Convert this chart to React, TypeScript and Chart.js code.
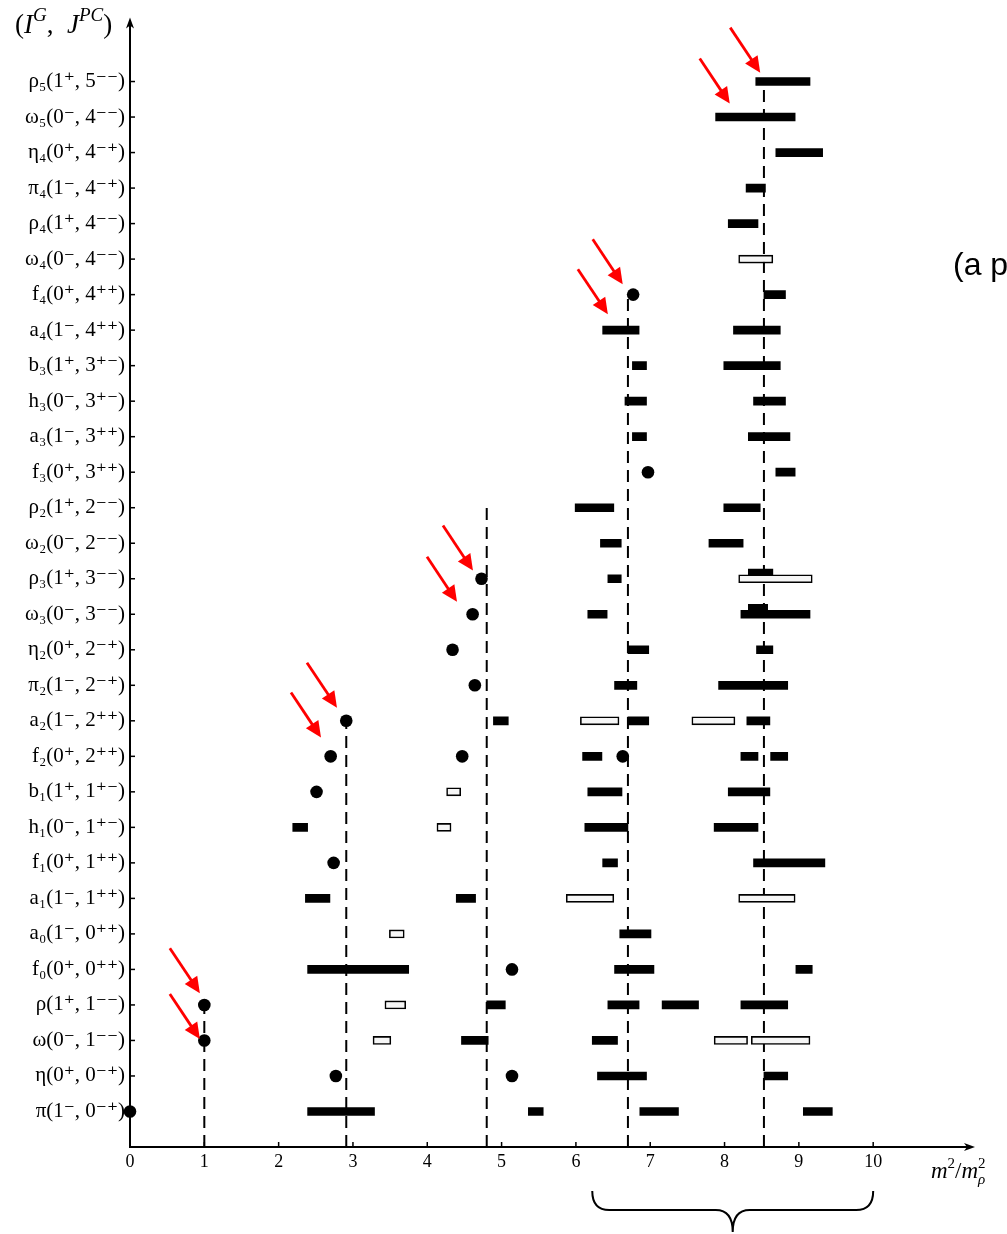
import React, { useEffect, useRef } from 'react';
import { Chart, registerables } from 'chart.js';

Chart.register(...registerables);

// Row labels, bottom (value 1) to top (value 30)
const rowLabels: string[] = [
  'π(1⁻, 0⁻⁺)', 'η(0⁺, 0⁻⁺)', 'ω(0⁻, 1⁻⁻)', 'ρ(1⁺, 1⁻⁻)', 'f₀(0⁺, 0⁺⁺)',
  'a₀(1⁻, 0⁺⁺)', 'a₁(1⁻, 1⁺⁺)', 'f₁(0⁺, 1⁺⁺)', 'h₁(0⁻, 1⁺⁻)', 'b₁(1⁺, 1⁺⁻)',
  'f₂(0⁺, 2⁺⁺)', 'a₂(1⁻, 2⁺⁺)', 'π₂(1⁻, 2⁻⁺)', 'η₂(0⁺, 2⁻⁺)', 'ω₃(0⁻, 3⁻⁻)',
  'ρ₃(1⁺, 3⁻⁻)', 'ω₂(0⁻, 2⁻⁻)', 'ρ₂(1⁺, 2⁻⁻)', 'f₃(0⁺, 3⁺⁺)', 'a₃(1⁻, 3⁺⁺)',
  'h₃(0⁻, 3⁺⁻)', 'b₃(1⁺, 3⁺⁻)', 'a₄(1⁻, 4⁺⁺)', 'f₄(0⁺, 4⁺⁺)', 'ω₄(0⁻, 4⁻⁻)',
  'ρ₄(1⁺, 4⁻⁻)', 'π₄(1⁻, 4⁻⁺)', 'η₄(0⁺, 4⁻⁺)', 'ω₅(0⁻, 4⁻⁻)', 'ρ₅(1⁺, 5⁻⁻)',
];

const xTickValues: number[] = [0, 1, 2, 3, 4, 5, 6, 7, 8, 9, 10];

// [row, start, end] — filled (black) mass bands
const filledBars: [number, number, number][] = [
  [1, 2.39, 3.29], [1, 5.36, 5.56], [1, 6.86, 7.38], [1, 9.06, 9.45],
  [2, 6.29, 6.95], [2, 8.53, 8.85],
  [3, 4.46, 4.82], [3, 6.22, 6.56],
  [4, 4.80, 5.05], [4, 6.43, 6.85], [4, 7.16, 7.65], [4, 8.22, 8.85],
  [5, 2.39, 3.75], [5, 6.52, 7.05], [5, 8.96, 9.18],
  [6, 6.59, 7.01],
  [7, 2.36, 2.69], [7, 4.39, 4.65],
  [8, 6.36, 6.56], [8, 8.39, 9.35],
  [9, 2.19, 2.39], [9, 6.12, 6.70], [9, 7.86, 8.45],
  [10, 6.16, 6.62], [10, 8.05, 8.61],
  [11, 6.09, 6.35], [11, 8.22, 8.45], [11, 8.62, 8.85],
  [12, 4.89, 5.09], [12, 6.70, 6.98], [12, 8.30, 8.61],
  [13, 6.52, 6.82], [13, 7.92, 8.85],
  [14, 6.70, 6.98], [14, 8.43, 8.65],
  [15, 6.16, 6.42], [15, 8.22, 9.15], [15.17, 8.32, 8.58],
  [16, 6.43, 6.61], [16.16, 8.32, 8.65],
  [17, 6.33, 6.61], [17, 7.79, 8.25],
  [18, 5.99, 6.51], [18, 7.99, 8.48],
  [19, 8.69, 8.95],
  [20, 6.76, 6.95], [20, 8.32, 8.88],
  [21, 6.66, 6.95], [21, 8.39, 8.82],
  [22, 6.76, 6.95], [22, 7.99, 8.75],
  [23, 6.36, 6.85], [23, 8.12, 8.75],
  [24, 8.53, 8.82],
  [26, 8.05, 8.45],
  [27, 8.29, 8.55],
  [28, 8.69, 9.32],
  [29, 7.88, 8.95],
  [30, 8.42, 9.15],
];

// [row, start, end] — open (hollow) mass bands
const openBars: [number, number, number][] = [
  [3, 3.27, 3.51], [3, 7.86, 8.31], [3, 8.36, 9.15],
  [4, 3.43, 3.71],
  [6, 3.49, 3.69],
  [7, 5.87, 6.51], [7, 8.19, 8.95],
  [9, 4.13, 4.32],
  [10, 4.26, 4.45],
  [12, 6.06, 6.58], [12, 7.56, 8.14],
  [16, 8.19, 9.18],
  [25, 8.19, 8.65],
];

// [row, x] — point-like states
const dots: [number, number][] = [
  [1, 0.0],
  [2, 2.77], [2, 5.14],
  [3, 1.0],
  [4, 1.0],
  [5, 5.14],
  [8, 2.74],
  [10, 2.51],
  [11, 2.70], [11, 4.47], [11, 6.63],
  [12, 2.91],
  [13, 4.64],
  [14, 4.34],
  [15, 4.61],
  [16, 4.73],
  [19, 6.97],
  [24, 6.77],
];

// dashed vertical lines: x position and top row
const dashX: number[] = [1.0, 2.91, 4.80, 6.70, 8.53];
const dashTop: number[] = [4, 12, 18, 24, 30];

// red arrow tips (data coordinates)
const arrowTipX: number[] = [8.48, 8.07, 6.63, 6.43, 4.615, 4.40, 2.785, 2.57, 0.94, 0.94];
const arrowTipY: number[] = [30.25, 29.38, 24.29, 23.45, 16.23, 15.35, 12.37, 11.53, 4.33, 3.04];

// brace under the x axis
const braceRange: number[] = [6.22, 10.0];

const SERIF = '"Liberation Serif", "DejaVu Serif", serif';

type Run = { t: string; s: number; i?: boolean; dy?: number; noAdvance?: boolean };

function drawRuns(ctx: CanvasRenderingContext2D, x: number, baseline: number, runs: Run[]) {
  let cx = x;
  ctx.textBaseline = 'alphabetic';
  ctx.textAlign = 'left';
  for (const r of runs) {
    ctx.font = `${r.i ? 'italic ' : ''}${r.s}px ${SERIF}`;
    ctx.fillText(r.t, cx, baseline + (r.dy || 0));
    if (!r.noAdvance) cx += ctx.measureText(r.t).width;
  }
  return cx;
}

const decorPlugin = {
  id: 'decor',
  afterDatasetsDraw(chart: any) {
    const { ctx, chartArea, scales } = chart;
    const xs = scales.x;
    const ys = scales.y;
    const x0 = chartArea.left;
    const y0 = chartArea.bottom;
    ctx.save();
    ctx.strokeStyle = '#000';
    ctx.fillStyle = '#000';
    ctx.lineCap = 'butt';

    // axes
    ctx.lineWidth = 2;
    ctx.beginPath();
    ctx.moveTo(x0, y0 + 1);
    ctx.lineTo(x0, chartArea.top + 6);
    ctx.stroke();
    ctx.beginPath();
    ctx.moveTo(x0 - 1, y0);
    ctx.lineTo(chartArea.right - 6, y0);
    ctx.stroke();
    // arrow heads
    ctx.beginPath();
    ctx.moveTo(x0, chartArea.top);
    ctx.lineTo(x0 - 4, chartArea.top + 11);
    ctx.lineTo(x0, chartArea.top + 8);
    ctx.lineTo(x0 + 4, chartArea.top + 11);
    ctx.closePath();
    ctx.fill();
    ctx.beginPath();
    ctx.moveTo(chartArea.right, y0);
    ctx.lineTo(chartArea.right - 11, y0 - 4);
    ctx.lineTo(chartArea.right - 8, y0);
    ctx.lineTo(chartArea.right - 11, y0 + 4);
    ctx.closePath();
    ctx.fill();

    // inward tick marks
    ctx.lineWidth = 1.5;
    for (const v of xTickValues) {
      const px = xs.getPixelForValue(v);
      ctx.beginPath();
      ctx.moveTo(px, y0);
      ctx.lineTo(px, y0 - 5);
      ctx.stroke();
    }
    rowLabels.forEach((_, i) => {
      const py = ys.getPixelForValue(i + 1);
      ctx.beginPath();
      ctx.moveTo(x0, py);
      ctx.lineTo(x0 + 5, py);
      ctx.stroke();
    });

    // red arrows
    ctx.strokeStyle = '#ff0000';
    ctx.fillStyle = '#ff0000';
    const dxp = 30, dyp = 45;
    const len = Math.hypot(dxp, dyp);
    const ux = dxp / len, uy = dyp / len;
    const headL = 16, headW = 7.5;
    arrowTipX.forEach((tx, i) => {
      const px = xs.getPixelForValue(tx);
      const py = ys.getPixelForValue(arrowTipY[i]);
      const bx = px - ux * headL, by = py - uy * headL;
      ctx.lineWidth = 2.8;
      ctx.beginPath();
      ctx.moveTo(px - dxp, py - dyp);
      ctx.lineTo(bx + ux * 2, by + uy * 2);
      ctx.stroke();
      ctx.beginPath();
      ctx.moveTo(px, py);
      ctx.lineTo(bx - uy * headW, by + ux * headW);
      ctx.lineTo(bx + uy * headW, by - ux * headW);
      ctx.closePath();
      ctx.fill();
    });

    // brace
    ctx.strokeStyle = '#000';
    ctx.fillStyle = '#000';
    ctx.lineWidth = 2;
    const bx1 = xs.getPixelForValue(braceRange[0]);
    const bx2 = xs.getPixelForValue(braceRange[1]);
    const bcx = (bx1 + bx2) / 2;
    const top = y0 + 44, mid = y0 + 63, bot = y0 + 85, r = 17;
    ctx.beginPath();
    ctx.moveTo(bx1, top);
    ctx.quadraticCurveTo(bx1, mid, bx1 + r, mid);
    ctx.lineTo(bcx - r, mid);
    ctx.quadraticCurveTo(bcx, mid, bcx, bot);
    ctx.quadraticCurveTo(bcx, mid, bcx + r, mid);
    ctx.lineTo(bx2 - r, mid);
    ctx.quadraticCurveTo(bx2, mid, bx2, top);
    ctx.stroke();

    // y axis title  (I^G, J^PC)
    drawRuns(ctx, 15, 33, [
      { t: '(', s: 27 },
      { t: 'I', s: 27, i: true },
      { t: 'G', s: 19, i: true, dy: -12 },
      { t: ',  ', s: 27 },
      { t: 'J', s: 27, i: true },
      { t: 'PC', s: 19, i: true, dy: -12 },
      { t: ')', s: 27 },
    ]);

    // x axis title  m^2 / m_rho^2
    const after = drawRuns(ctx, 931, 1178, [
      { t: 'm', s: 23, i: true },
      { t: '2', s: 15, dy: -10 },
      { t: '/', s: 23 },
      { t: 'm', s: 23, i: true },
    ]);
    drawRuns(ctx, after, 1178, [
      { t: '2', s: 15, dy: -10, noAdvance: true },
      { t: 'ρ', s: 15, i: true, dy: 6 },
    ]);

    // side note
    ctx.font = '32px "Liberation Sans", Arial, sans-serif';
    ctx.textAlign = 'left';
    ctx.textBaseline = 'alphabetic';
    ctx.fillText('(a p', 953, 275);

    ctx.restore();
  },
};

export default function App() {
  const canvasRef = useRef<HTMLCanvasElement | null>(null);

  useEffect(() => {
    const canvas = canvasRef.current;
    if (!canvas) return;
    const nFilled = filledBars.length;
    const barData = [
      ...filledBars.map(([r, a, b]) => ({ x: [a, b], y: r })),
      ...openBars.map(([r, a, b]) => ({ x: [a, b], y: r })),
    ];
    const dashSets = dashX.map((x, i) => ({
      type: 'line' as const,
      data: [{ x, y: 0 }, { x, y: dashTop[i] }],
      borderColor: '#000',
      borderWidth: 2,
      borderDash: [12, 7],
      pointRadius: 0,
      fill: false,
      order: 10,
      clip: false,
    }));

    const chart = new Chart(canvas, {
      type: 'bar',
      data: {
        datasets: [
          ...dashSets,
          {
            type: 'bar',
            indexAxis: 'y',
            data: barData as any,
            backgroundColor: (c: any) => (c.dataIndex < nFilled ? '#000' : '#f6f6f6'),
            borderColor: '#000',
            borderWidth: (c: any) => (c.dataIndex < nFilled ? 0 : 1.6),
            borderSkipped: false,
            barThickness: 8,
            order: 5,
          } as any,
          {
            type: 'scatter',
            data: dots.map(([r, x]) => ({ x, y: r })),
            pointRadius: 6.3,
            pointHoverRadius: 6.3,
            pointBackgroundColor: '#000',
            pointBorderWidth: 0,
            showLine: false,
            clip: false,
            order: 1,
          } as any,
        ],
      },
      options: {
        responsive: false,
        animation: false,
        devicePixelRatio: 1,
        layout: { padding: { top: 16, right: 32, left: 0, bottom: 0 } },
        plugins: { legend: { display: false }, tooltip: { enabled: false } },
        scales: {
          x: {
            type: 'linear',
            min: 0,
            max: 11.37,
            offset: false,
            stacked: false,
            grid: { display: false, drawTicks: false },
            border: { display: false },
            ticks: {
              color: '#000',
              font: { family: SERIF, size: 18 },
              padding: 4,
              autoSkip: false,
              maxRotation: 0,
              callback: (v: any) => String(v),
            },
            afterBuildTicks: (s: any) => {
              s.ticks = xTickValues.map((v) => ({ value: v }));
            },
            afterFit: (s: any) => {
              s.height = 87;
            },
          },
          y: {
            type: 'linear',
            min: 0,
            max: 31.8,
            offset: false,
            grid: { display: false, drawTicks: false },
            border: { display: false },
            ticks: {
              color: '#000',
              font: { family: SERIF, size: 21 },
              padding: 5,
              autoSkip: false,
              callback: (v: any) => rowLabels[Math.round(v) - 1] ?? '',
            },
            afterBuildTicks: (s: any) => {
              s.ticks = rowLabels.map((_, i) => ({ value: i + 1 }));
            },
            afterFit: (s: any) => {
              s.width = 130;
            },
          },
        },
      } as any,
      plugins: [decorPlugin],
    });
    return () => chart.destroy();
  }, []);

  return (
    <div
      style={{
        position: 'fixed',
        left: 0,
        top: 0,
        width: 1007,
        height: 1234,
        overflow: 'hidden',
        background: '#fff',
      }}
    >
      <canvas ref={canvasRef} width={1007} height={1234} style={{ display: 'block' }} />
    </div>
  );
}
